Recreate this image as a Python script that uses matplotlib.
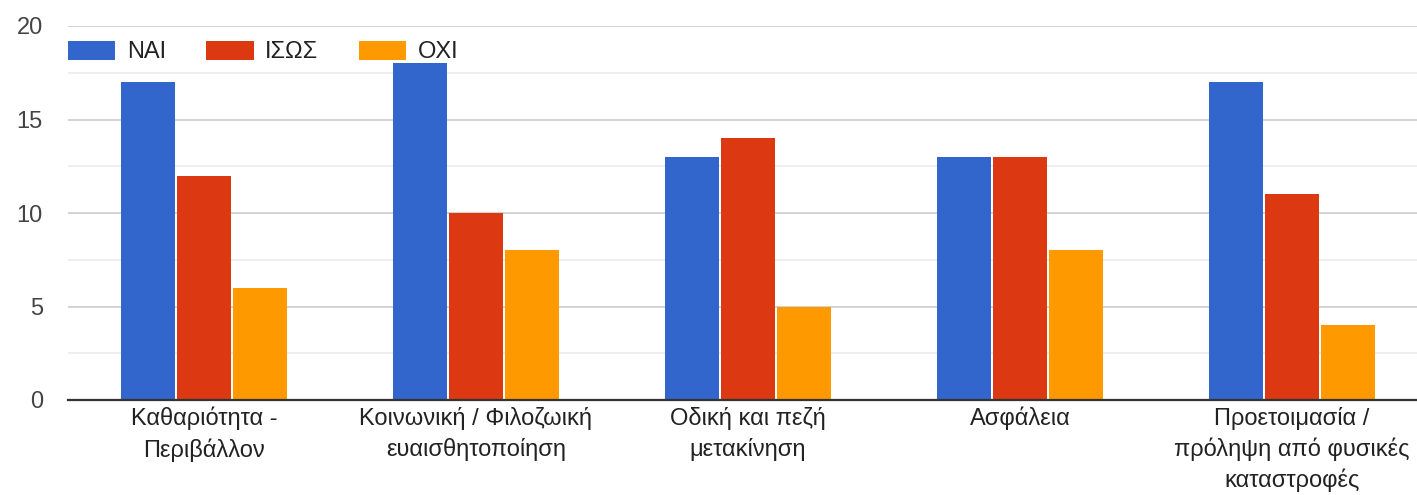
import matplotlib
matplotlib.use("Agg")
import matplotlib.pyplot as plt
import numpy as np
from matplotlib.patches import Patch

plt.rcParams['font.family'] = ['Liberation Sans', 'DejaVu Sans']

categories = ["Καθαριότητα -\nΠεριβάλλον",
              "Κοινωνική / Φιλοζωική\nευαισθητοποίηση",
              "Οδική και πεζή\nμετακίνηση",
              "Ασφάλεια",
              "Προετοιμασία /\nπρόληψη από φυσικές\nκαταστροφές"]
series_names = ["ΝΑΙ", "ΙΣΩΣ", "ΟΧΙ"]
nai = [17, 18, 13, 13, 17]
isos = [12, 10, 14, 13, 11]
oxi = [6, 8, 5, 8, 4]
colors = ["#3366CC", "#DC3912", "#FF9900"]

fig = plt.figure(figsize=(14.17, 4.95), dpi=100)
ax = fig.add_axes([68/1417, 1 - 400/495, 1 - 68/1417, 374/495])

x = np.arange(len(categories))
step = 0.206
width = 0.198
for i, vals in enumerate([nai, isos, oxi]):
    ax.bar(x + (i - 1) * step, vals, width=width, color=colors[i], zorder=3)

ax.set_xlim(-0.5, 4.46)
ax.set_ylim(0, 20)
ax.set_yticks([0, 5, 10, 15, 20])
ax.set_yticks([2.5, 7.5, 12.5, 17.5], minor=True)
ax.grid(True, which='major', axis='y', color='#cccccc', linewidth=1.2, zorder=0)
ax.grid(True, which='minor', axis='y', color='#ebebeb', linewidth=1.2, zorder=0)
ax.tick_params(axis='y', which='both', length=0, labelsize=17, labelcolor='#444444', pad=18)
ax.tick_params(axis='x', length=0, labelsize=17, labelcolor='#222222', pad=5)
ax.set_xticks(x)
ax.set_xticklabels(categories, linespacing=1.42)
for s in ['top', 'right', 'left']:
    ax.spines[s].set_visible(False)
ax.spines['bottom'].set_color('#333333')
ax.spines['bottom'].set_linewidth(1.6)
ax.spines['bottom'].set_zorder(4)

handles = [Patch(facecolor=c, edgecolor='none') for c in colors]
leg = ax.legend(handles, series_names, ncol=3, loc='center left',
                bbox_to_anchor=(0.0, (400 - 52) / 374), frameon=False,
                fontsize=17, handlelength=2.0, handleheight=0.85,
                handletextpad=0.5, columnspacing=1.7, borderpad=0,
                borderaxespad=0)
for t in leg.get_texts():
    t.set_color('#222222')

fig.savefig("out.png", dpi=100, facecolor='white')
